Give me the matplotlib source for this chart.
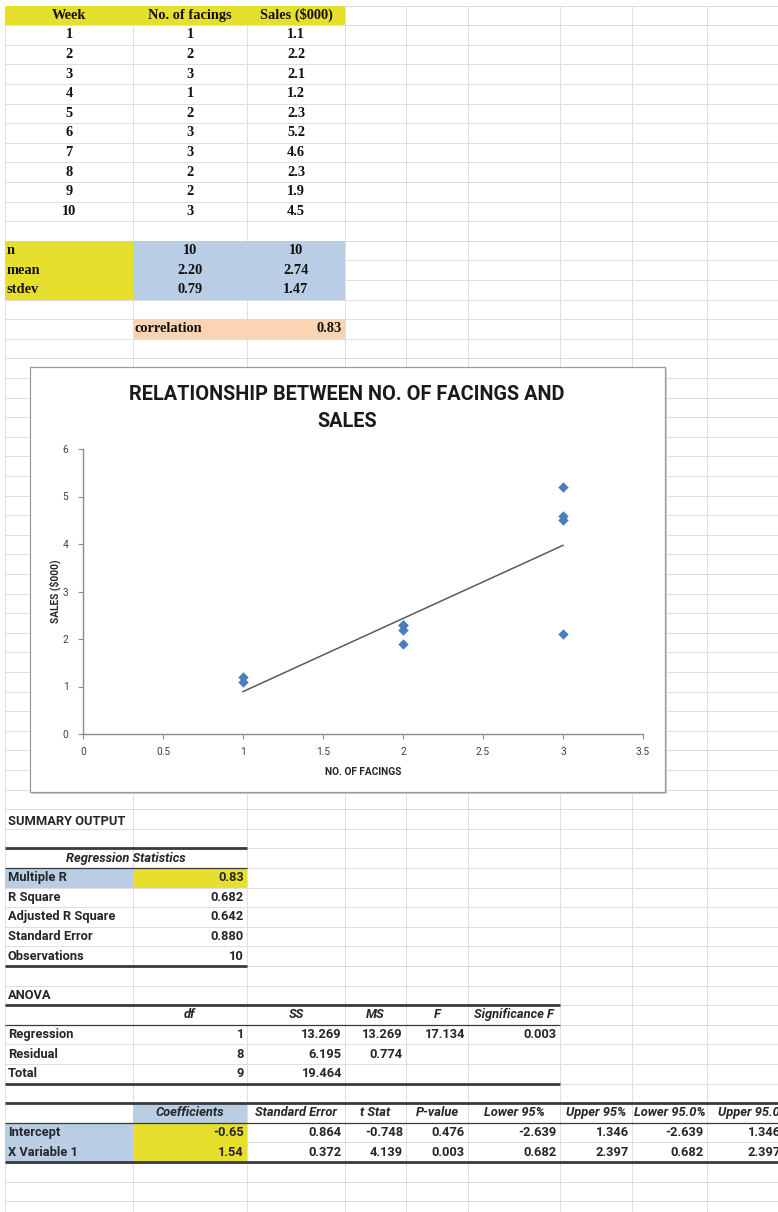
import matplotlib
matplotlib.use("Agg")
import matplotlib.pyplot as plt
from matplotlib.patches import Rectangle
import numpy as np

# raw data (weeks)
weeks = [1, 2, 3, 4, 5, 6, 7, 8, 9, 10]
facings = [1, 2, 3, 1, 2, 3, 3, 2, 2, 3]
sales = [1.1, 2.2, 2.1, 1.2, 2.3, 5.2, 4.6, 2.3, 1.9, 4.5]

# descriptive stats as shown in the sheet
stat_names = ["n", "mean", "stdev"]
stat_facings = ["10", "2.20", "0.79"]
stat_sales = ["10", "2.74", "1.47"]
correlation = "0.83"

# regression output
reg_names = ["Multiple R", "R Square", "Adjusted R Square", "Standard Error", "Observations"]
reg_values = ["0.83", "0.682", "0.642", "0.880", "10"]

anova_cols = ["df", "SS", "MS", "F", "Significance F"]
anova_rows = ["Regression", "Residual", "Total"]
anova_vals = [["1", "13.269", "13.269", "17.134", "0.003"],
              ["8", "6.195", "0.774", "", ""],
              ["9", "19.464", "", "", ""]]

coef_cols = ["Coefficients", "Standard Error", "t Stat", "P-value",
             "Lower 95%", "Upper 95%", "Lower 95.0%", "Upper 95.0%"]
coef_rows = ["Intercept", "X Variable 1"]
coef_vals = [["-0.65", "0.864", "-0.748", "0.476", "-2.639", "1.346", "-2.639", "1.346"],
             ["1.54", "0.372", "4.139", "0.003", "0.682", "2.397", "0.682", "2.397"]]

# sheet layout (pixels)
W, H = 778, 1212
cols = [5, 133, 247, 345, 406, 468, 560, 632, 707, 800]
y0, rh = 5.5, 19.6
YELLOW = "#e6df2e"
BLUE = "#b9cde5"
PEACH = "#fbd4b4"
GRID = "#dedede"
SANS = "Roboto"


def ry(k):
    return y0 + rh * k


def rc(k):
    return y0 + rh * (k + 0.5)


fig = plt.figure(figsize=(W / 100, H / 100), dpi=100)
bg = fig.add_axes([0, 0, 1, 1])
bg.set_xlim(0, W)
bg.set_ylim(H, 0)
bg.axis("off")

# gridlines
nrows = int((H - y0) / rh) + 1
for k in range(nrows + 1):
    bg.plot([cols[0], W], [ry(k), ry(k)], color=GRID, lw=0.7, zorder=1)
for x in cols[:-1]:
    bg.plot([x, x], [y0, H], color=GRID, lw=0.7, zorder=1)


def fill(x1, x2, k1, k2, color):
    bg.add_patch(Rectangle((x1, ry(k1)), x2 - x1, ry(k2) - ry(k1),
                           facecolor=color, edgecolor="none", zorder=2))


serif = dict(family="Liberation Serif", fontweight="bold", fontsize=10.4, zorder=5, color="#111111")
sans = dict(family=SANS, fontweight="bold", fontsize=9.3, zorder=5, color="#262626")

# ---- top data table
fill(cols[0], cols[3], 0, 1, YELLOW)
for j, lab in enumerate(["Week", "No. of facings", r"Sales (\$000)"]):
    bg.text((cols[j] + cols[j + 1]) / 2, rc(0), lab, ha="center", va="center", **serif)
for i in range(len(weeks)):
    row = [str(weeks[i]), str(facings[i]), f"{sales[i]:.1f}"]
    for j, v in enumerate(row):
        bg.text((cols[j] + cols[j + 1]) / 2, rc(i + 1), v, ha="center", va="center", **serif)

fill(cols[0], cols[1], 12, 15, YELLOW)
fill(cols[1], cols[3], 12, 15, BLUE)
for i, name in enumerate(stat_names):
    bg.text(cols[0] + 2, rc(12 + i), name, ha="left", va="center", **serif)
    bg.text((cols[1] + cols[2]) / 2, rc(12 + i), stat_facings[i], ha="center", va="center", **serif)
    bg.text((cols[2] + cols[3]) / 2, rc(12 + i), stat_sales[i], ha="center", va="center", **serif)

fill(cols[1], cols[3], 16, 17, PEACH)
bg.text(cols[1] + 2, rc(16), "correlation", ha="left", va="center", **serif)
bg.text(cols[3] - 3, rc(16), correlation, ha="right", va="center", **serif)

# ---- chart box
bg.add_patch(Rectangle((32, 369), 635, 425, facecolor="#d0d0d0", edgecolor="none", zorder=3))
bg.add_patch(Rectangle((30, 367), 635, 425, facecolor="white", edgecolor="#9a9a9a", lw=0.9, zorder=3))

ax = fig.add_axes([83 / W, 1 - 734 / H, 560 / W, 285 / H])
ax.set_facecolor("none")
ax.scatter(facings, sales, marker="D", s=28, color="#4a7ebb", zorder=4, linewidths=0)
slope, icpt = np.polyfit(facings, sales, 1)
xs = np.array([min(facings), max(facings)])
ax.plot(xs, icpt + slope * xs, color="#5a5a5a", lw=1.1, zorder=3)
ax.set_xlim(0, 3.5)
ax.set_ylim(0, 6)
ax.set_xticks(np.arange(0, 3.51, 0.5))
ax.set_xticklabels(["0", "0.5", "1", "1.5", "2", "2.5", "3", "3.5"])
ax.set_yticks(range(0, 7))
for s in ["top", "right"]:
    ax.spines[s].set_visible(False)
for s in ["left", "bottom"]:
    ax.spines[s].set_color("#8c8c8c")
    ax.spines[s].set_linewidth(1.0)
ax.tick_params(axis="both", colors="#8c8c8c", labelcolor="#404040", labelsize=7.3, length=3.5)
ax.tick_params(axis="x", pad=6)
ax.tick_params(axis="y", pad=7)
for lab in ax.get_xticklabels() + ax.get_yticklabels():
    lab.set_family(SANS)
ax.set_xlabel("NO. OF FACINGS", family=SANS, fontweight="bold", fontsize=7.3, color="#262626", labelpad=7)
ax.set_ylabel(r"SALES (\$000)", family=SANS, fontweight="bold", fontsize=7.3, color="#262626", labelpad=1)
bg.text(347, 408, "RELATIONSHIP BETWEEN NO. OF FACINGS AND\nSALES", ha="center", va="center",
        family=SANS, fontweight="bold", fontsize=14.3, color="#1a1a1a", linespacing=1.5, zorder=5)


def rule(x1, x2, y, lw):
    bg.plot([x1, x2], [y, y], color="#3a3a3a", lw=lw, zorder=4, solid_capstyle="butt")


# ---- summary output
bg.text(cols[0] + 3, rc(41) + 3, "SUMMARY OUTPUT", ha="left", va="center", **sans)

rule(cols[0], cols[2], ry(43), 2.0)
bg.text((cols[0] + cols[2]) / 2, rc(43), "Regression Statistics", ha="center", va="center",
        style="italic", **sans)
rule(cols[0], cols[2], ry(44), 0.9)
fill(cols[0], cols[1], 44, 45, BLUE)
fill(cols[1], cols[2], 44, 45, YELLOW)
for i, (n, v) in enumerate(zip(reg_names, reg_values)):
    bg.text(cols[0] + 3, rc(44 + i), n, ha="left", va="center", **sans)
    bg.text(cols[2] - 3, rc(44 + i), v, ha="right", va="center", **sans)
rule(cols[0], cols[2], ry(49), 2.0)

# ---- ANOVA
bg.text(cols[0] + 3, rc(50), "ANOVA", ha="left", va="center", **sans)
rule(cols[0], cols[6], ry(51), 2.0)
for j, c in enumerate(anova_cols):
    bg.text((cols[j + 1] + cols[j + 2]) / 2, rc(51), c, ha="center", va="center", style="italic", **sans)
rule(cols[0], cols[6], ry(52), 0.9)
for i, name in enumerate(anova_rows):
    bg.text(cols[0] + 3, rc(52 + i), name, ha="left", va="center", **sans)
    for j, v in enumerate(anova_vals[i]):
        if v:
            bg.text(cols[j + 2] - 3, rc(52 + i), v, ha="right", va="center", **sans)
rule(cols[0], cols[6], ry(55), 2.0)

# ---- coefficients (last column runs past the right edge, as in the sheet)
rule(cols[0], W, ry(56), 2.0)
fill(cols[1], cols[2], 56, 57, BLUE)
for j, c in enumerate(coef_cols):
    bg.text((cols[j + 1] + cols[j + 2]) / 2, rc(56), c, ha="center", va="center", style="italic", **sans)
rule(cols[0], W, ry(57), 0.9)
fill(cols[0], cols[1], 57, 59, BLUE)
fill(cols[1], cols[2], 57, 59, YELLOW)
for i, name in enumerate(coef_rows):
    bg.text(cols[0] + 3, rc(57 + i), name, ha="left", va="center", **sans)
    for j, v in enumerate(coef_vals[i]):
        xr = cols[j + 2] - 3 if j < 7 else 781
        bg.text(xr, rc(57 + i), v, ha="right", va="center", **sans)
rule(cols[0], W, ry(59), 2.0)

fig.savefig("out.png", dpi=100)
